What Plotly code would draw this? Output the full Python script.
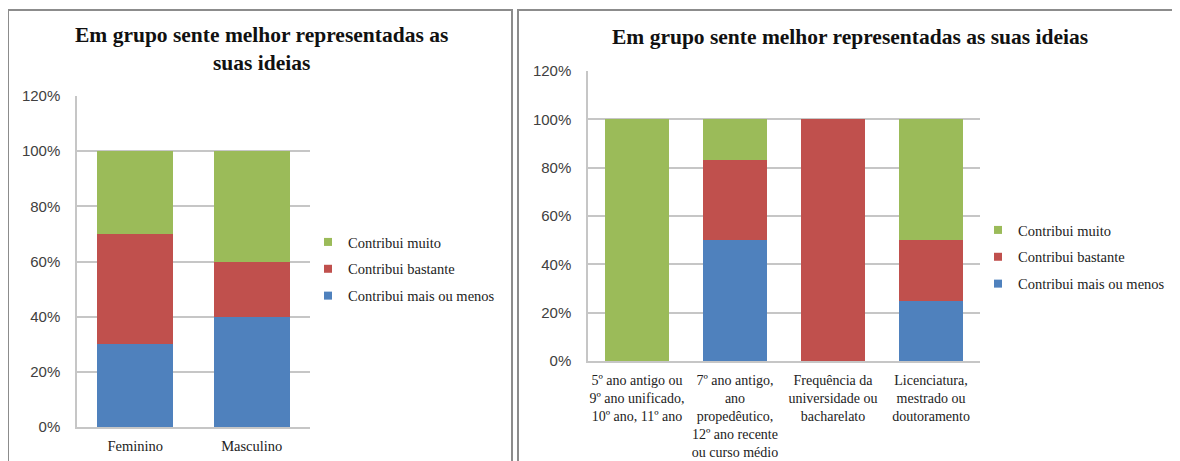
import plotly.graph_objects as go

W, H = 1180, 461
OFF = 8  # page body margin of the rendered html

series_names = ["Contribui mais ou menos", "Contribui bastante", "Contribui muito"]
colors = ["#4F81BD", "#C0504D", "#9BBB59"]

left_categories = ["Feminino", "Masculino"]
left_mais_ou_menos = [0.30, 0.40]
left_bastante = [0.40, 0.20]
left_muito = [0.30, 0.40]

right_categories = [
    "5º ano antigo ou<br>9º ano unificado,<br>10º ano, 11º ano",
    "7º ano antigo,<br>ano<br>propedêutico,<br>12º ano recente<br>ou curso médio",
    "Frequência da<br>universidade ou<br>bacharelato",
    "Licenciatura,<br>mestrado ou<br>doutoramento",
]
right_mais_ou_menos = [0.0, 0.50, 0.0, 0.25]
right_bastante = [0.0, 0.333, 1.0, 0.25]
right_muito = [1.0, 0.167, 0.0, 0.50]

left_title = "Em grupo sente melhor representadas as<br>suas ideias"
right_title = "Em grupo sente melhor representadas as suas ideias"
y_ticks = [0, 0.2, 0.4, 0.6, 0.8, 1.0, 1.2]
y_ticklabels = ["0%", "20%", "40%", "60%", "80%", "100%", "120%"]

fig = go.Figure()

left_vals = [left_mais_ou_menos, left_bastante, left_muito]
right_vals = [right_mais_ou_menos, right_bastante, right_muito]

for name, col, vals in zip(series_names, colors, left_vals):
    fig.add_trace(go.Bar(x=left_categories, y=vals, name=name, marker_color=col,
                         marker_line_width=0, xaxis="x", yaxis="y", showlegend=False))
for name, col, vals in zip(series_names, colors, right_vals):
    fig.add_trace(go.Bar(x=right_categories, y=vals, name=name, marker_color=col,
                         marker_line_width=0, xaxis="x2", yaxis="y2", showlegend=False))

# legend entries (small square swatches like the original), top entry = last series
for lg, xa, ya in (("legend", "x", "y"), ("legend2", "x2", "y2")):
    for i in reversed(range(len(series_names))):
        fig.add_trace(go.Scatter(x=[None], y=[None], mode="markers", name=series_names[i],
                                 marker=dict(symbol="square", size=8, color=colors[i]),
                                 xaxis=xa, yaxis=ya, legend=lg,
                                 legendgroup=lg + str(i), showlegend=True))

def px_x(v):
    return (v - OFF) / W

def px_y(v):
    return 1 - (v - OFF) / H

grid = "#c6c6c6"
serif = "Liberation Serif, Times New Roman, serif"

def yaxis_cfg(size):
    return dict(
        range=[0, 1.2], tickvals=y_ticks, ticktext=y_ticklabels,
        showgrid=True, gridcolor=grid, gridwidth=1.5,
        showline=True, linecolor=grid, linewidth=1.5,
        ticks="", zeroline=False, fixedrange=True, automargin=False,
        ticklabelstandoff=12,
        tickfont=dict(family="Liberation Sans, Arial, sans-serif", size=size, color="#404040"),
    )

def xaxis_cfg(size):
    return dict(
        showline=True, linecolor=grid, linewidth=1.5, ticks="", showgrid=False,
        tickfont=dict(family=serif, size=size, color="#222222"),
        fixedrange=True, tickangle=0, automargin=False, ticklabelstandoff=5,
    )

legend_font = dict(family=serif, size=14.5, color="#222222")

fig.update_layout(
    width=W, height=H,
    margin=dict(l=0, r=0, t=0, b=0, autoexpand=False),
    paper_bgcolor="white", plot_bgcolor="white",
    barmode="stack", bargap=0.35,
    showlegend=True,
    xaxis=dict(domain=[px_x(77), px_x(310)], anchor="y", **xaxis_cfg(14.5)),
    yaxis=dict(domain=[px_y(427), px_y(96)], anchor="x", **yaxis_cfg(15)),
    xaxis2=dict(domain=[px_x(588), px_x(980)], anchor="y2", **xaxis_cfg(14)),
    yaxis2=dict(domain=[px_y(361), px_y(71)], anchor="x2", **yaxis_cfg(15)),
    legend=dict(x=px_x(308), y=px_y(226), xanchor="left", yanchor="top",
                traceorder="grouped", itemwidth=30, tracegroupgap=5,
                font=legend_font, bgcolor="rgba(0,0,0,0)"),
    legend2=dict(x=px_x(978), y=px_y(214), xanchor="left", yanchor="top",
                 traceorder="grouped", itemwidth=30, tracegroupgap=5,
                 font=legend_font, bgcolor="rgba(0,0,0,0)"),
)

fig.add_annotation(text="<b>" + left_title + "</b>",
                   x=px_x(261), y=px_y(49), xref="paper", yref="paper",
                   xanchor="center", yanchor="middle",
                   showarrow=False, align="center",
                   font=dict(family=serif, size=21.5, color="#111111"))
fig.add_annotation(text="<b>" + right_title + "</b>",
                   x=px_x(850), y=px_y(37), xref="paper", yref="paper",
                   xanchor="center", yanchor="middle",
                   showarrow=False, align="center",
                   font=dict(family=serif, size=21.5, color="#111111"))

# panel borders
border = dict(color="#8c8c8c", width=2)
fig.add_shape(type="rect", xref="paper", yref="paper",
              x0=px_x(8), x1=px_x(512), y0=px_y(475), y1=px_y(10), line=border)
fig.add_shape(type="rect", xref="paper", yref="paper",
              x0=px_x(518), x1=px_x(1195), y0=px_y(475), y1=px_y(10), line=border)

fig.write_html("out.html")
